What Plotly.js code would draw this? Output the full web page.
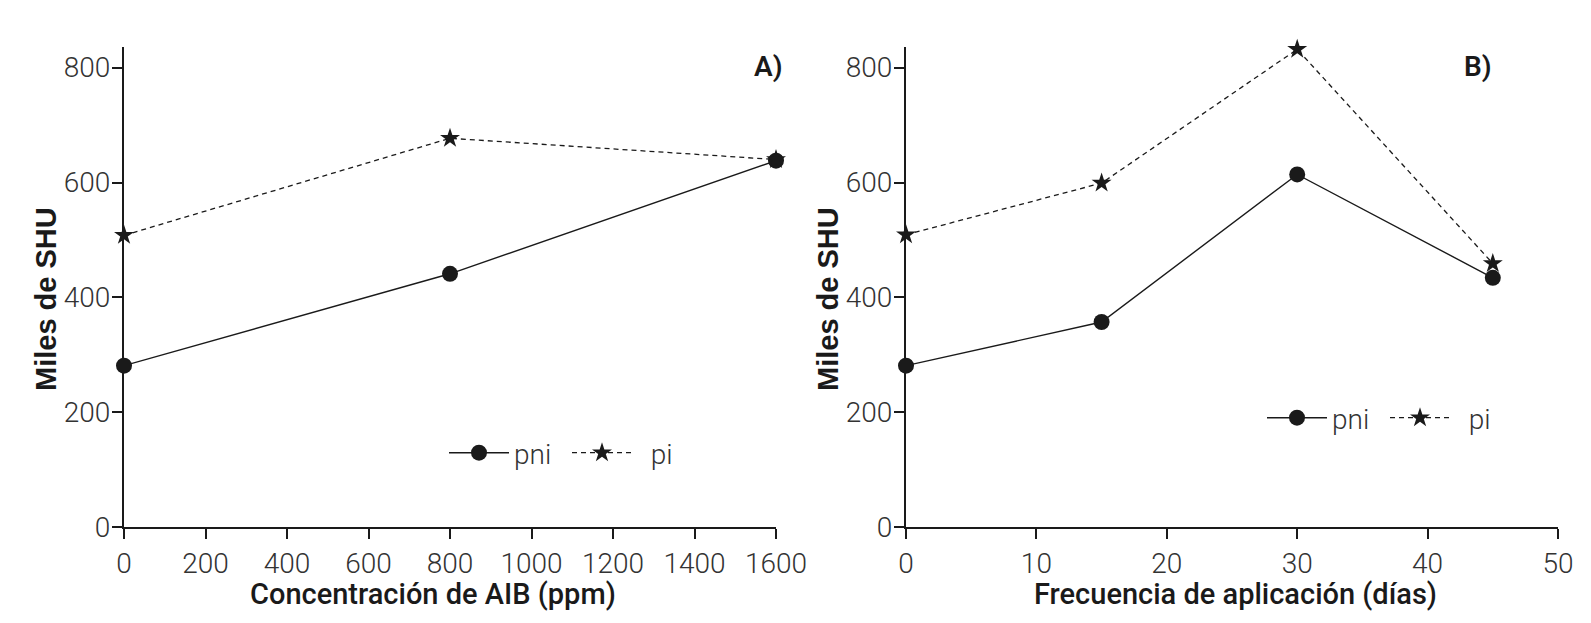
<!DOCTYPE html>
<html>
<head>
<meta charset="utf-8">
<script src="https://cdn.plot.ly/plotly-3.0.1.min.js"></script>
<style>
  html, body { margin: 0; padding: 0; background: #fff; }
  #chart { width: 1591px; height: 623px; }
</style>
</head>
<body>
<div id="chart"></div>
<script>
// panel A: concentracion de AIB (ppm)
const concAIB = [0, 800, 1600];
const concPni = [281, 441, 638];
const concPi = [508, 677, 640];

// panel B: frecuencia de aplicacion (dias)
const frecDias = [0, 15, 30, 45];
const frecPni = [281, 357, 614, 434];
const frecPi = [509, 599, 832, 459];

const ink = "#1a1a1a";
const W = 1591, H = 623;
// plot area in px (margins l/r = 0)
const plotTop = 47, plotBottom = 527;
const py = (px) => (plotBottom - px) / (plotBottom - plotTop);

const tickFont = { family: "Roboto", size: 28, color: "#333", weight: 300 };
const titleFont = { family: "Roboto", size: 29, color: ink, weight: 500 };

const pniStyle = {
  mode: "lines+markers",
  line: { color: ink, width: 1.4 },
  marker: { symbol: "circle", size: 16, color: ink },
  cliponaxis: false
};
const piStyle = {
  mode: "lines+markers",
  line: { color: ink, width: 1.3, dash: "5px,4px" },
  marker: { symbol: "star", size: 15, color: ink },
  cliponaxis: false
};

const data = [
  Object.assign({ x: concAIB, y: concPni, name: "pni", xaxis: "x", yaxis: "y", legend: "legend" }, pniStyle),
  Object.assign({ x: concAIB, y: concPi, name: "\u00a0\u00a0pi", xaxis: "x", yaxis: "y", legend: "legend" }, piStyle),
  Object.assign({ x: frecDias, y: frecPni, name: "pni", xaxis: "x2", yaxis: "y2", legend: "legend2" }, pniStyle),
  Object.assign({ x: frecDias, y: frecPi, name: "\u00a0\u00a0pi", xaxis: "x2", yaxis: "y2", legend: "legend2" }, piStyle)
];

const axisBase = {
  showline: true,
  linewidth: 2,
  linecolor: ink,
  ticks: "outside",
  ticklen: 10,
  tickwidth: 2,
  tickcolor: ink,
  showgrid: false,
  zeroline: false,
  tickfont: tickFont,
  fixedrange: true
};

const xAxis = (range, dtick, domain) => Object.assign({}, axisBase, {
  range: range, dtick: dtick, domain: domain
});
const yAxis = (anchor) => Object.assign({}, axisBase, {
  range: [0, 836], dtick: 200, anchor: anchor, ticklabelstandoff: -4
});

const legendBase = {
  orientation: "h",
  yanchor: "middle",
  xanchor: "left",
  font: { family: "Roboto", size: 28, color: "#333", weight: 300 },
  itemwidth: 60,
  entrywidth: 48,
  entrywidthmode: "pixels",
  bgcolor: "rgba(0,0,0,0)",
  borderwidth: 0
};

// axis titles placed as annotations (the left one sits off-centre in the original)
const xTitle = (text, xpx) => ({
  text: text,
  xref: "paper", yref: "paper",
  x: xpx / W, y: py(594),
  xanchor: "center", yanchor: "middle", showarrow: false,
  font: titleFont
});
const yTitle = (xpx) => ({
  text: "Miles de SHU",
  xref: "paper", yref: "paper",
  x: xpx / W, y: py(299),
  xanchor: "center", yanchor: "middle",
  textangle: -90, showarrow: false,
  font: { family: "Liberation Sans", size: 29, color: ink, weight: 700 }
});
const panelTag = (label, xpx) => ({
  text: label,
  xref: "paper", yref: "paper",
  x: xpx / W, y: py(67),
  xanchor: "center", yanchor: "middle", showarrow: false,
  font: { family: "Roboto", size: 28, color: ink, weight: 600 }
});

const layout = {
  width: W,
  height: H,
  margin: { l: 0, r: 0, t: plotTop, b: H - plotBottom },
  paper_bgcolor: "#fff",
  plot_bgcolor: "#fff",
  xaxis: xAxis([0, 1600], 200, [124 / W, 776 / W]),
  yaxis: yAxis("x"),
  xaxis2: xAxis([0, 50], 10, [906 / W, 1558 / W]),
  yaxis2: yAxis("x2"),
  legend: Object.assign({}, legendBase, { x: 444 / W, y: py(453) }),
  legend2: Object.assign({}, legendBase, { x: 1262 / W, y: py(418) }),
  annotations: [
    xTitle("Concentración de AIB (ppm)", 433),
    xTitle("Frecuencia de aplicación (días)", 1235),
    yTitle(46), yTitle(828),
    panelTag("A)", 768), panelTag("B)", 1478)
  ]
};

Plotly.newPlot("chart", data, layout, { displayModeBar: false, staticPlot: true });
</script>
</body>
</html>
